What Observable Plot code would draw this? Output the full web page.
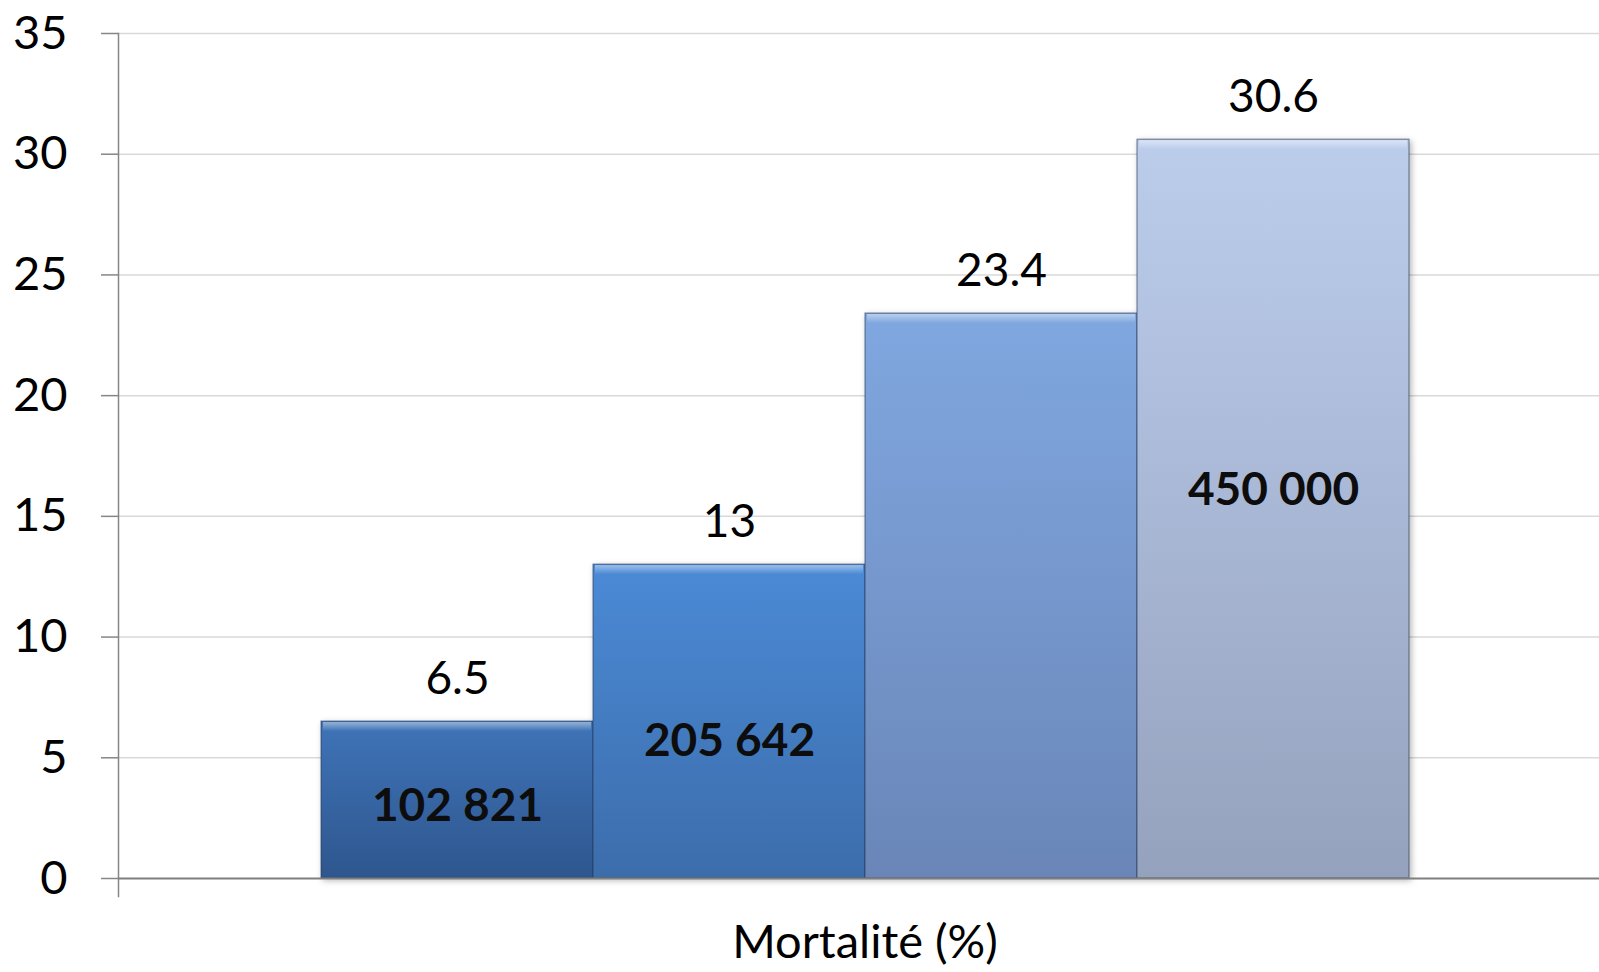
<!DOCTYPE html>
<html>
<head>
<meta charset="utf-8">
<script src="https://cdn.jsdelivr.net/npm/d3@7"></script>
<script src="https://cdn.jsdelivr.net/npm/@observablehq/plot@0.6"></script>
<style>
  body { margin: 0; background: #fff; }
  svg { display: block; }
</style>
</head>
<body>
<div id="chart"></div>
<script>
// Mortality rate (%) by series, with the associated number of deaths.
const series = ["Série 1", "Série 2", "Série 3", "Série 4"];
const category = "Mortalité (%)";
const mortality = [6.5, 13, 23.4, 30.6];
const deaths = ["102 821", "205 642", "", "450 000"];
const yTicks = [0, 5, 10, 15, 20, 25, 30, 35];

// Top → bottom gradient stops for each bar.
const gradients = [
  ["#3f74b8", "#2e568e"],
  ["#4b8ad6", "#3c6dab"],
  ["#80a7e0", "#6a86b8"],
  ["#bccdec", "#95a2be"]
];
// Small vertical nudges (in % units) for the death-count labels.
const deathShift = [-0.27, -0.82, 0, 0.8];

const rows = series.map((s, i) => ({
  series: s,
  value: mortality[i],
  deaths: deaths[i],
  fill: `url(#bar-grad-${i})`,
  shift: deathShift[i]
}));

const font = "Lato, 'Open Sans', sans-serif";

const chart = Plot.plot({
  width: 1599,
  height: 972,
  marginTop: 33,
  marginBottom: 94,
  marginLeft: 118,
  marginRight: 0,
  style: { fontFamily: font, background: "#fff", color: "#000" },
  x: { domain: series, range: [320, 1409], padding: 0, axis: null },
  y: { domain: [0, 35], axis: null },
  color: { type: "identity" },
  marks: [
    Plot.ruleY(yTicks.filter(d => d > 0), { stroke: "#d9d9d9", strokeWidth: 1.5 }),
    Plot.axisY(yTicks, {
      tickSize: 17,
      tickPadding: 34,
      stroke: "#868686",
      strokeWidth: 1.5,
      fill: "#000",
      fontSize: 47,
      label: null
    }),
    Plot.frame({ anchor: "left", stroke: "#868686", strokeWidth: 1.5, insetBottom: -18 }),
    Plot.barY(rows, {
      x: "series",
      y: "value",
      fill: "fill",
      stroke: "#24385a",
      strokeOpacity: 0.55,
      strokeWidth: 1.2,
      imageFilter: "drop-shadow(2px 2px 3px rgba(0,0,0,0.3))"
    }),
    // bevelled highlight along the top edge of each bar
    Plot.barY(rows, {
      x: "series",
      y1: "value",
      y2: "value",
      insetTop: 1,
      insetBottom: -10,
      insetLeft: 2,
      insetRight: 2,
      fill: "url(#bar-bevel)"
    }),
    Plot.ruleY([0], { stroke: "#7f7f7f", strokeWidth: 2 }),
    Plot.text(rows, {
      x: "series",
      y: "value",
      text: d => String(d.value),
      dy: -42,
      fontSize: 46,
      fill: "#000"
    }),
    Plot.text(rows.filter(d => d.deaths), {
      x: "series",
      y: d => d.value / 2 + d.shift,
      text: "deaths",
      fontSize: 46,
      fontWeight: "bold",
      fill: "#0d0d0d"
    }),
    Plot.text([category], {
      frameAnchor: "bottom",
      text: d => d,
      dy: 79,
      dx: 6,
      fontSize: 47,
      fill: "#000"
    })
  ]
});

// Gradient definitions referenced by the bar fills.
const svg = d3.select(chart);
const defs = svg.insert("defs", ":first-child");
gradients.forEach(([top, bottom], i) => {
  const g = defs.append("linearGradient")
    .attr("id", `bar-grad-${i}`)
    .attr("x1", 0).attr("y1", 0).attr("x2", 0).attr("y2", 1);
  g.append("stop").attr("offset", "0%").attr("stop-color", top);
  g.append("stop").attr("offset", "100%").attr("stop-color", bottom);
});
const bevel = defs.append("linearGradient")
  .attr("id", "bar-bevel")
  .attr("x1", 0).attr("y1", 0).attr("x2", 0).attr("y2", 1);
bevel.append("stop").attr("offset", "0%").attr("stop-color", "#fff").attr("stop-opacity", 0.45);
bevel.append("stop").attr("offset", "100%").attr("stop-color", "#fff").attr("stop-opacity", 0);

document.getElementById("chart").appendChild(chart);
</script>
</body>
</html>
